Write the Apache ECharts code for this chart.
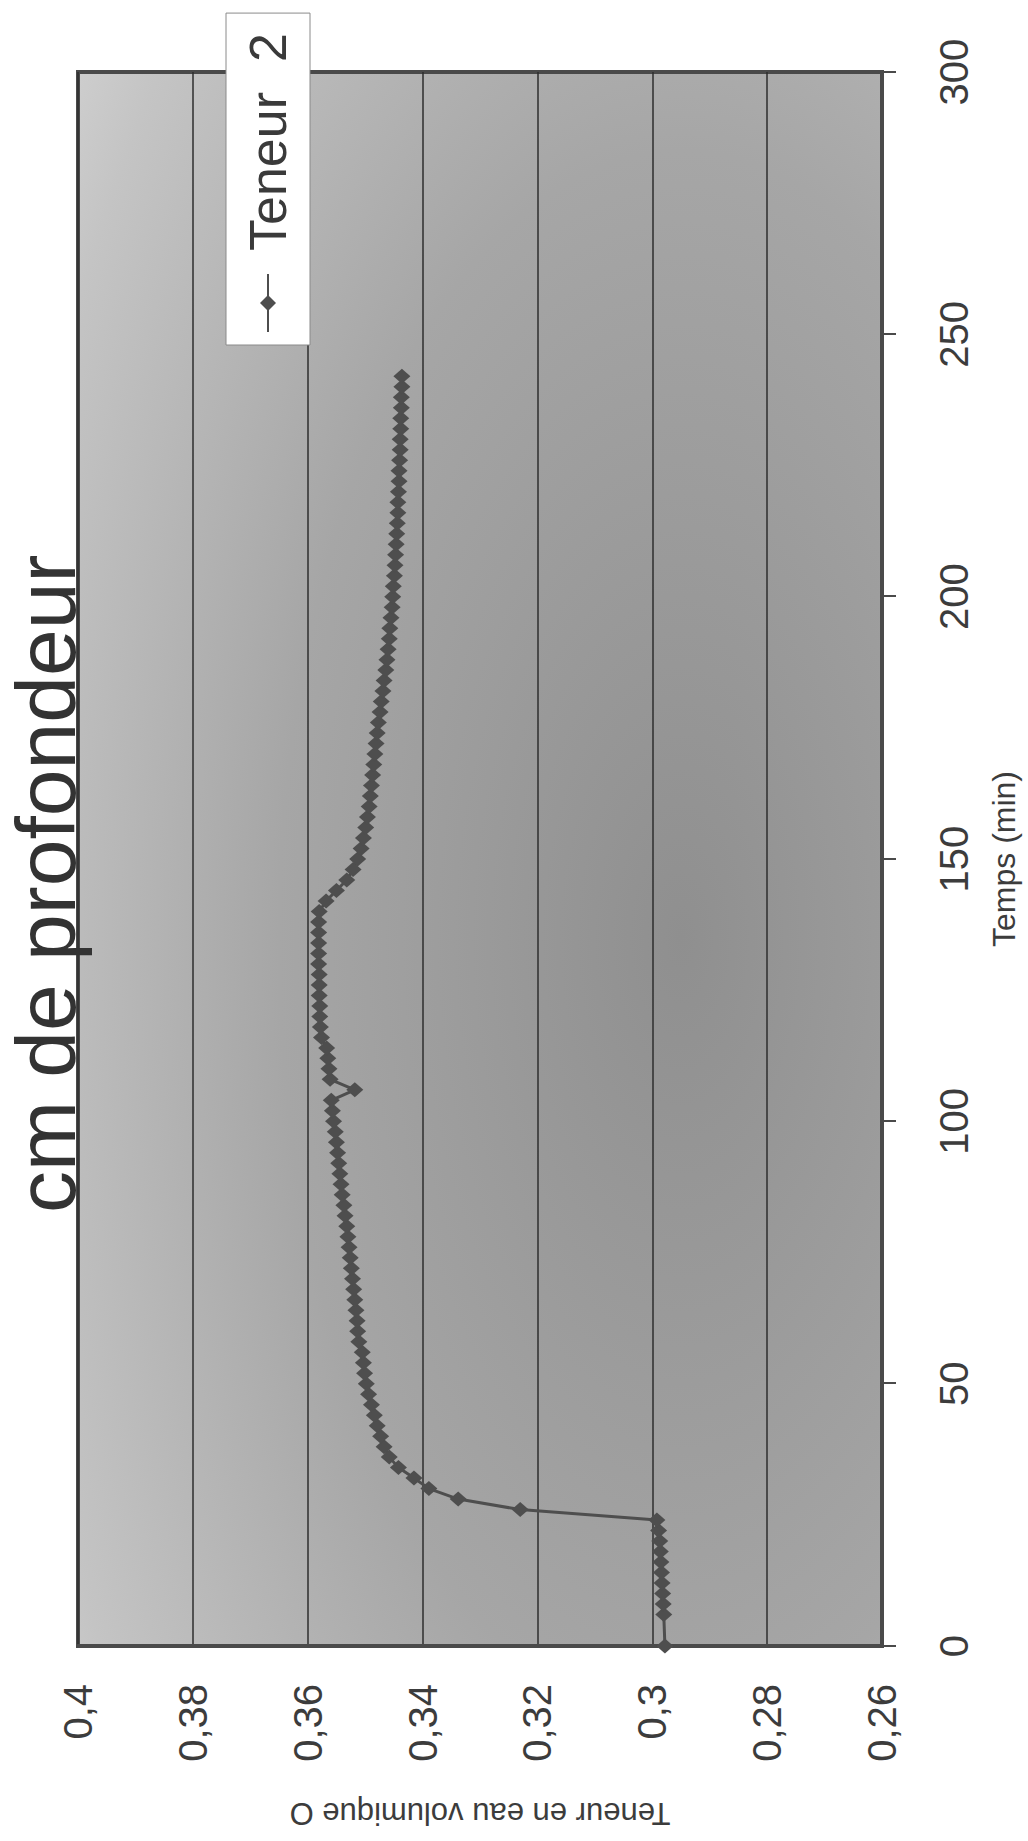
<!DOCTYPE html>
<html>
<head>
<meta charset="utf-8">
<script src="https://cdn.jsdelivr.net/npm/echarts@6/dist/echarts.min.js"></script>
<style>
html,body{margin:0;padding:0;width:1028px;height:1841px;overflow:hidden;background:#fff;}
#wrap{position:absolute;left:0;top:0;width:1841px;height:1028px;transform-origin:0 0;transform:translate(0,1841px) rotate(-90deg);}
</style>
</head>
<body>
<div id="wrap"></div>
<script>
// ---- data (time in minutes, water content) ----
const timeMin = [0,6,8,10,12,14,16,18,20,22,24,26,28,30,32,34,36,38,40,42,44,46,48,50,52,54,56,58,60,62,64,66,68,70,72,74,76,78,80,82,84,86,88,90,92,94,96,98,100,102,104,106,108,110,112,114,116,118,120,122,124,126,128,130,132,134,136,138,140,142,144,146,148,150,152,154,156,158,160,162,164,166,168,170,172,174,176,178,180,182,184,186,188,190,192,194,196,198,200,202,204,206,208,210,212,214,216,218,220,222,224,226,228,230,232,234,236,238,240,242];
const teneur = [0.2978,0.2980,0.2981,0.2982,0.2983,0.2984,0.2985,0.2986,0.2987,0.2989,0.2992,0.3230,0.3338,0.3389,0.3415,0.3442,0.3458,0.3467,0.3473,0.3479,0.3484,0.3489,0.3494,0.3498,0.3501,0.3503,0.3505,0.3511,0.3513,0.3514,0.3516,0.3518,0.3520,0.3522,0.3524,0.3526,0.3528,0.3530,0.3532,0.3535,0.3537,0.3540,0.3542,0.3544,0.3546,0.3548,0.3550,0.3552,0.3555,0.3557,0.3559,0.3518,0.3561,0.3563,0.3565,0.3567,0.3576,0.3578,0.3579,0.3579,0.3580,0.3580,0.3580,0.3581,0.3581,0.3581,0.3581,0.3581,0.3580,0.3568,0.3550,0.3532,0.3521,0.3513,0.3507,0.3503,0.3499,0.3496,0.3493,0.3491,0.3489,0.3487,0.3485,0.3483,0.3481,0.3479,0.3477,0.3474,0.3472,0.3469,0.3467,0.3464,0.3462,0.3460,0.3458,0.3457,0.3455,0.3453,0.3452,0.3451,0.3449,0.3448,0.3447,0.3446,0.3445,0.3444,0.3443,0.3443,0.3442,0.3441,0.3441,0.3440,0.3439,0.3439,0.3438,0.3438,0.3437,0.3437,0.3436,0.3436];
const seriesName = 'Teneur 2';
const titleText = 'cm de profondeur';
const xAxisName = 'Temps (min)';
const yAxisName = 'Teneur en eau volumique O';
const xTicks = {min:0, max:300, interval:50};
const yTicks = {min:0.26, max:0.40, interval:0.02};

const points = timeMin.map((t,i)=>[t, teneur[i]]);
const FONT = '"Liberation Sans", Arial, Helvetica, sans-serif';
const ink = '#3c3c3c';

const chart = echarts.init(document.getElementById('wrap'), null, {renderer:'svg', width:1841, height:1028});
chart.setOption({
  animation:false,
  backgroundColor:'#ffffff',
  title:{
    text:titleText, left:628, top:4, padding:0,
    textStyle:{fontFamily:FONT, fontSize:84, fontWeight:'normal', color:'#333333'}
  },
  legend:{
    data:[seriesName], left:1496, top:226, padding:[16,20,16,12],
    backgroundColor:'#ffffff', borderColor:'#8a8a8a', borderWidth:1,
    itemWidth:58, itemHeight:20,
    formatter: n => '{a|Teneur}{b|2}',
    textStyle:{fontFamily:FONT, color:'#3a3a3a', fontSize:52,
      rich:{a:{fontFamily:FONT, fontSize:52, color:'#3a3a3a', padding:[0,0,0,18]},
            b:{fontFamily:FONT, fontSize:52, color:'#3a3a3a', padding:[0,0,0,30]}}}
  },
  grid:{
    left:195, right:72, top:78, bottom:146, show:true,
    borderColor:'#4a4a4a', borderWidth:4,
    backgroundColor:{type:'radial', x:0.45, y:0.75, r:1.0,
      colorStops:[{offset:0,color:'#8f8f8f'},{offset:0.5,color:'#a6a6a6'},{offset:0.85,color:'#c4c4c4'},{offset:1,color:'#d6d6d6'}]}
  },
  xAxis:{
    type:'value', min:xTicks.min, max:xTicks.max, interval:xTicks.interval,
    name:xAxisName, nameLocation:'middle', nameGap:106,
    nameTextStyle:{fontFamily:FONT, fontSize:32, color:ink},
    axisLine:{show:true, lineStyle:{color:'#4a4a4a', width:4}},
    axisTick:{show:true, inside:false, length:14, lineStyle:{color:'#4a4a4a', width:2}},
    axisLabel:{fontFamily:FONT, fontSize:40, color:ink, margin:52},
    splitLine:{show:false}
  },
  yAxis:{
    type:'value', min:yTicks.min, max:yTicks.max, interval:yTicks.interval,
    name:yAxisName, nameLocation:'middle', nameRotate:90, nameGap:152,
    nameTextStyle:{fontFamily:FONT, fontSize:31, color:ink},
    axisLine:{show:true, lineStyle:{color:'#4a4a4a', width:4}},
    axisTick:{show:false},
    axisLabel:{fontFamily:FONT, fontSize:40, color:ink, margin:38,
      formatter: v => String(+v.toFixed(2)).replace('.', ',')},
    splitLine:{show:true, lineStyle:{color:'#2e2e2e', width:1.5}}
  },
  series:[{
    name:seriesName, type:'line', data:points,
    symbol:'diamond', symbolSize:[15,17], showAllSymbol:true,
    lineStyle:{color:'#4e4e4e', width:3},
    itemStyle:{color:'#4e4e4e', borderWidth:0}
  }]
});
</script>
</body>
</html>
